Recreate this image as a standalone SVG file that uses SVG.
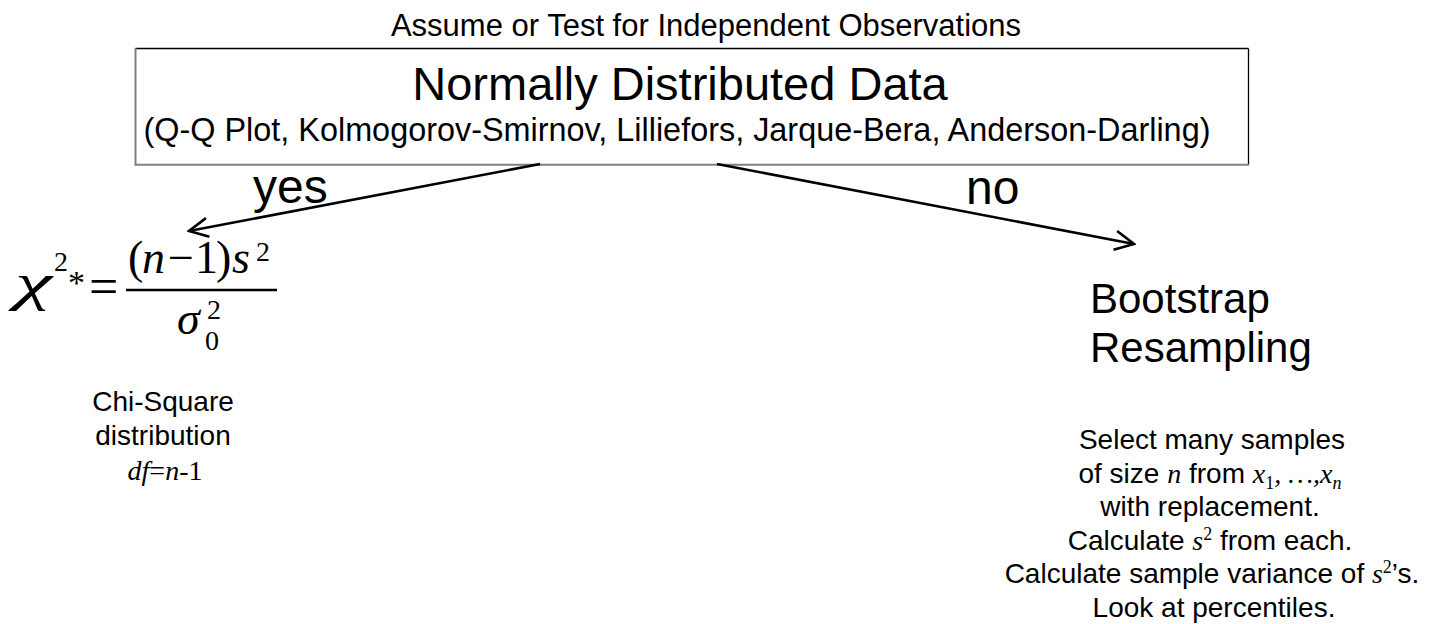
<svg xmlns="http://www.w3.org/2000/svg" width="1431" height="624" viewBox="0 0 1431 624">
<defs>
<style>
.s{font-family:"Liberation Sans",Arial,sans-serif;fill:#000}
.m{font-family:"Liberation Serif","Times New Roman",serif;fill:#000}
.i{font-style:italic}
.c{text-anchor:middle}
.ln{stroke:#000;stroke-width:2.6;fill:none}
.br{font-size:28px}
</style>
<marker id="ah" viewBox="0 0 24 24" refX="22" refY="12" markerWidth="24" markerHeight="24" markerUnits="userSpaceOnUse" orient="auto">
<path d="M3,2.5 L22,12 L3,21.5" fill="none" stroke="#000" stroke-width="2.6"/>
</marker>
</defs>
<rect width="1431" height="624" fill="#fff"/>
<g id="top-label"><text class="s c" x="706" y="36" font-size="31">Assume or Test for Independent Observations</text></g>
<g id="normal-node">
<rect x="136" y="48.5" width="1112" height="116" fill="#fff"/>
<line x1="135.5" y1="48.5" x2="1248.5" y2="48.5" stroke="#000" stroke-width="1.3"/>
<line x1="1248.5" y1="48.5" x2="1248.5" y2="165" stroke="#000" stroke-width="1.3"/>
<line x1="135.5" y1="48" x2="135.5" y2="165.5" stroke="#808080" stroke-width="2"/>
<line x1="135" y1="164.7" x2="1249" y2="164.7" stroke="#808080" stroke-width="2"/>
<text class="s c" x="680" y="100" font-size="47">Normally Distributed Data</text>
<text class="s c" x="677" y="141" font-size="32.4">(Q-Q Plot, Kolmogorov-Smirnov, Lilliefors, Jarque-Bera, Anderson-Darling)</text>
</g>
<g id="connectors">
<line class="ln" x1="540" y1="164" x2="189" y2="231" marker-end="url(#ah)"/>
<line class="ln" x1="717" y1="164" x2="1134" y2="244" marker-end="url(#ah)"/>
<text class="s" x="253" y="203" font-size="48">yes</text>
<text class="s" x="966" y="204" font-size="48">no</text>
</g>
<g id="chi-node">
<text class="m i" x="15" y="300" font-size="52" textLength="37" lengthAdjust="spacingAndGlyphs">χ</text>
<text class="m" x="54" y="271" font-size="28">2</text>
<text class="m" x="68" y="294" font-size="34">*</text>
<text class="m" x="89" y="304" font-size="52">=</text>
<line x1="126" y1="290" x2="277" y2="290" stroke="#000" stroke-width="2.5"/>
<text class="m" y="273" font-size="46"><tspan x="128">(</tspan><tspan class="i" x="142">n</tspan><tspan x="168">−</tspan><tspan x="195">1</tspan><tspan x="216">)</tspan><tspan class="i" x="232">s</tspan><tspan x="256" y="261" font-size="28">2</tspan></text>
<text class="m i" x="177" y="334" font-size="46">σ<tspan font-style="normal" font-size="28" x="205" y="350">0</tspan></text>
<text class="m" x="207" y="319" font-size="28">2</text>
<text class="s c" x="163" y="411" font-size="28">Chi-Square</text>
<text class="s c" x="163" y="445" font-size="28">distribution</text>
<text class="m c" x="165" y="480" font-size="28"><tspan class="i">df</tspan>=<tspan class="i">n</tspan>-1</text>
</g>
<g id="bootstrap-node">
<text class="s" x="1090" y="313" font-size="42">Bootstrap</text>
<text class="s" x="1090" y="362" font-size="42">Resampling</text>
<text class="s c br" x="1212" y="449">Select many samples</text>
<text class="s c br" x="1210" y="482.5">of size <tspan class="m i">n</tspan> from <tspan class="m i">x</tspan><tspan class="m" font-size="18" dy="6">1</tspan><tspan class="m i" dy="-6">, …,x</tspan><tspan class="m i" font-size="18" dy="6">n</tspan></text>
<text class="s c br" x="1210" y="516">with replacement.</text>
<text class="s c br" x="1210" y="549.5">Calculate <tspan class="m i">s</tspan><tspan class="m" font-size="18" dy="-10">2</tspan><tspan dy="10"> from each.</tspan></text>
<text class="s c br" x="1212" y="583">Calculate sample variance of <tspan class="m i">s</tspan><tspan class="m" font-size="18" dy="-10">2</tspan><tspan dy="10">’s.</tspan></text>
<text class="s c br" x="1214" y="616.5">Look at percentiles.</text>
</g>
</svg>
